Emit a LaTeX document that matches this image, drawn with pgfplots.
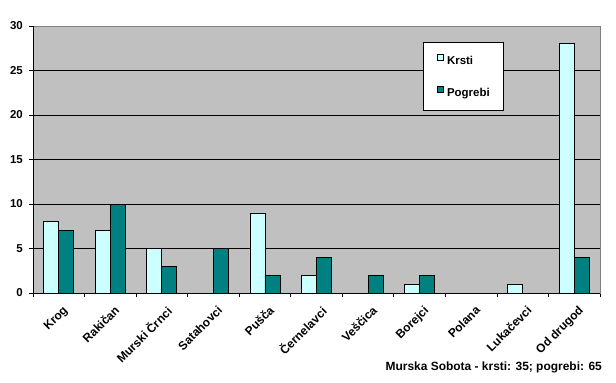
\documentclass[border=0pt]{standalone}
\usepackage{pgfplots}
\pgfplotsset{compat=1.18}
\usepackage{fontspec}
\setmainfont{Liberation Sans}
\definecolor{plotgray}{HTML}{C0C0C0}
\definecolor{bordergray}{HTML}{808080}
\definecolor{krsti}{HTML}{CCFFFF}
\definecolor{pogrebi}{HTML}{008080}
\begin{document}
\begin{tikzpicture}[x=1bp,y=1bp]
\useasboundingbox (0,0) rectangle (616,382);
\begin{axis}[
  at={(33bp,89bp)}, anchor=south west,
  scale only axis, width=567bp, height=267bp,
  xmin=-0.5, xmax=10.5, ymin=0, ymax=30,
  ytick={0,5,...,30},
  xtick={0,...,10},
  xticklabels={Krog,Rakičan,Murski Črnci,Satahovci,Pušča,Černelavci,Veščica,Borejci,Polana,Lukačevci,Od drugod},
  minor xtick={-0.5,0.5,...,10.5},
  major x tick style={draw=none},
  tick align=outside, tick pos=left,
  major tick length=4bp, minor tick length=4bp,
  every tick/.style={black, line width=0.75bp},
  axis line style={draw=bordergray, line width=0.75bp},
  axis background/.style={fill=plotgray},
  ybar=0pt, bar width=15bp,
  /pgf/number format/assume math mode=true,
  tick label style={font=\bfseries\fontsize{11.5}{13}\selectfont},
  yticklabel style={inner sep=0pt, xshift=-6bp},
  x tick label style={font=\bfseries\fontsize{12}{14}\selectfont, rotate=45, anchor=north east, inner sep=0pt, xshift=-3bp, yshift=-8bp},
  legend style={at={(0.688,0.940)}, anchor=north west, draw=black, line width=0.75bp, fill=white,
    font=\bfseries\fontsize{11.5}{13}\selectfont, inner xsep=14bp, inner ysep=11.5bp, row sep=20bp,
    nodes={inner sep=0pt, text height=8.5bp, text depth=1.5bp},
    /tikz/every odd column/.append style={column sep=3bp}},
  legend cell align=left,
  legend image code/.code={\draw[#1, line width=0.6bp] (0bp,1bp) rectangle (6bp,7bp);},
]
\pgfplotsinvokeforeach{5,10,15,20,25}{\draw[black, line width=0.75bp] (axis cs:-0.5,#1) -- (axis cs:10.5,#1);}
\addplot[fill=krsti, draw=black, line width=0.75bp] coordinates {(0,8) (1,7) (2,5) (3,0) (4,9) (5,2) (6,0) (7,1) (8,0) (9,1) (10,28)};
\addplot[fill=pogrebi, draw=black, line width=0.75bp] coordinates {(0,7) (1,10) (2,3) (3,5) (4,2) (5,4) (6,2) (7,2) (8,0) (9,0) (10,4)};
\draw[black, line width=0.75bp] (rel axis cs:0,0) -- (rel axis cs:0,1);
\draw[black, line width=0.75bp] (rel axis cs:0,0) -- (rel axis cs:1,0);
\legend{Krsti,Pogrebi}
\end{axis}
\node[anchor=base east, font=\bfseries\fontsize{12}{14}\selectfont, inner sep=0pt] at (602,12) {Murska Sobota - krsti: 35; pogrebi: 65};
\end{tikzpicture}
\end{document}
